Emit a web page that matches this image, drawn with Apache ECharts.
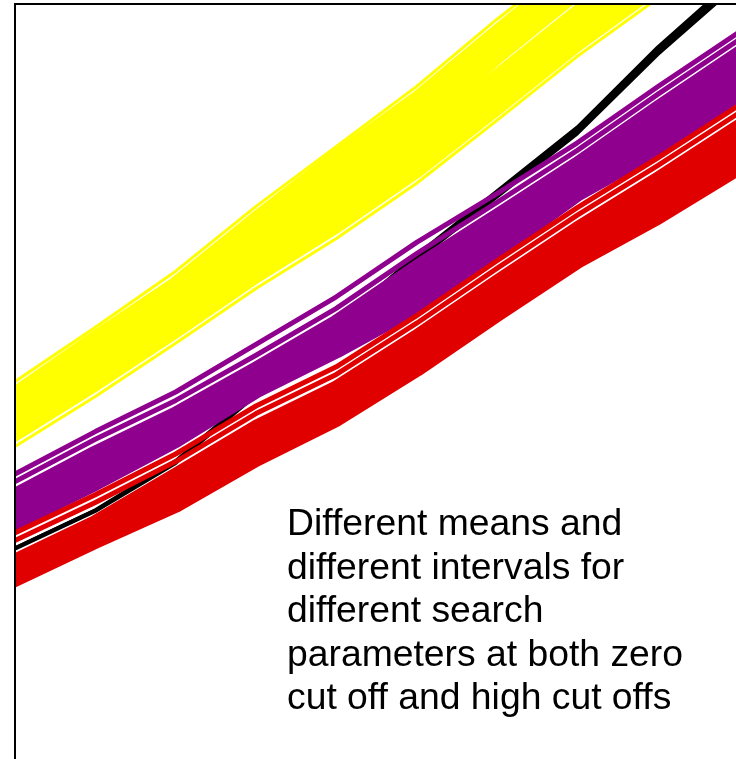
<!DOCTYPE html>
<html>
<head>
<meta charset="utf-8">
<script src="https://cdn.jsdelivr.net/npm/echarts/dist/echarts.min.js"></script>
<style>
  html, body { margin: 0; padding: 0; background: #fff; }
  #chart { width: 736px; height: 759px; }
</style>
</head>
<body>
<div id="chart"></div>
<script>
// Shared x positions for every strand
const xs = [0, 10, 20, 30, 40, 50, 60, 70, 80, 90];

// Black reference curve (three close strands, fanning out slightly)
const blackA = [32.0, 36.75, 42.9, 51.5, 60.0, 68.6, 76.6, 84.6, 94.6, 103.5];
const blackB = [32.0, 36.7, 42.75, 51.3, 59.75, 68.3, 76.25, 84.2, 94.15, 103.0];
const blackC = [31.9, 36.6, 42.6, 51.1, 59.5, 68.0, 75.9, 83.8, 93.7, 102.5];

// Yellow band strands
const yellowThinTop = [52.8, 59.6, 66.6, 74.7, 82.2, 89.7, 98.1, 105.9, 114.1, 122.2];
const yellowTop     = [51.15, 58.15, 64.9, 73.05, 80.8, 88.05, 96.4, 104.5, 112.4, 120.55];
const yellowMid4    = [50.2, 57.05, 63.8, 71.65, 79.1, 86.3, 94.55, 102.6, 110.4, 118.4];
const yellowMid3    = [49.2, 55.9, 62.6, 70.3, 77.4, 84.55, 93.5, 101.6, 108.9, 116.3];
const yellowMid2    = [48.3, 54.8, 61.5, 68.9, 75.7, 82.8, 90.8, 98.85, 106.4, 114.15];
const yellowMid1    = [47.3, 53.7, 60.4, 67.5, 74.05, 81.0, 88.95, 97.0, 104.35, 112.0];
const yellowBottom  = [46.35, 52.6, 59.25, 66.1, 72.35, 79.25, 87.1, 95.1, 102.35, 109.85];
const yellowThinBot = [44.7, 50.95, 57.6, 64.45, 70.7, 77.6, 85.45, 93.45, 100.7, 108.2];

// Purple band strands
const purpleThin1  = [41.25, 46.55, 51.5, 57.45, 63.4, 70.2, 76.3, 82.65, 89.65, 96.4];
const purpleThin2  = [40.3, 45.6, 50.45, 56.1, 61.95, 68.8, 75.2, 81.7, 88.7, 95.45];
const purpleTop    = [38.5, 43.8, 48.65, 54.3, 60.15, 67.0, 73.4, 79.9, 86.9, 93.65];
const purpleMid2   = [37.4, 42.6, 47.5, 53.35, 58.9, 65.3, 71.85, 78.6, 85.25, 91.8];
const purpleMid1   = [36.3, 41.35, 46.4, 52.35, 57.65, 63.6, 70.3, 77.3, 83.55, 90.0];
const purpleBottom = [35.15, 40.15, 45.5, 51.7, 56.7, 62.2, 69.0, 76.3, 81.9, 88.15];

// Red band strands
const redThin1  = [33.9, 38.65, 43.75, 49.75, 54.65, 61.05, 67.9, 74.55, 80.75, 87.25];
const redThin2  = [32.95, 37.7, 42.8, 48.8, 53.7, 60.1, 66.95, 73.6, 79.8, 86.3];
const redTop    = [30.3, 35.1, 41.0, 47.0, 51.9, 58.3, 65.15, 71.8, 78.0, 84.5];
const redMid2   = [29.7, 34.4, 39.8, 45.7, 50.65, 57.0, 63.85, 70.5, 76.45, 82.85];
const redMid1   = [29.0, 33.7, 38.6, 44.45, 49.4, 55.7, 62.55, 69.2, 74.95, 81.2];
const redBottom = [28.15, 32.9, 37.4, 43.15, 48.15, 54.4, 61.25, 67.9, 73.4, 79.55];

// Annotation text
const noteLines = [
  'Different means and',
  'different intervals for',
  'different search',
  'parameters at both zero',
  'cut off and high cut offs'
];

const COLORS = { black: '#000000', yellow: '#FFFF00', purple: '#8F008F', red: '#E00000' };

function strand(values, color, width) {
  return {
    type: 'line',
    data: xs.map((x, i) => [x, values[i]]),
    showSymbol: false,
    symbol: 'none',
    smooth: false,
    silent: true,
    clip: true,
    lineStyle: { color: color, width: width, join: 'round', cap: 'square' }
  };
}

const series = [
  strand(blackA, COLORS.black, 3.5),
  strand(blackB, COLORS.black, 3.5),
  strand(blackC, COLORS.black, 3.5),

  strand(yellowThinTop, COLORS.yellow, 3),
  strand(yellowTop, COLORS.yellow, 16),
  strand(yellowMid4, COLORS.yellow, 16),
  strand(yellowMid3, COLORS.yellow, 16),
  strand(yellowMid2, COLORS.yellow, 16),
  strand(yellowMid1, COLORS.yellow, 16),
  strand(yellowBottom, COLORS.yellow, 16),
  strand(yellowThinBot, COLORS.yellow, 3),

  strand(purpleThin1, COLORS.purple, 5),
  strand(purpleThin2, COLORS.purple, 5),
  strand(purpleTop, COLORS.purple, 16),
  strand(purpleMid2, COLORS.purple, 16),
  strand(purpleMid1, COLORS.purple, 16),
  strand(purpleBottom, COLORS.purple, 16),

  strand(redThin1, COLORS.red, 5),
  strand(redThin2, COLORS.red, 5),
  strand(redTop, COLORS.red, 16),
  strand(redMid2, COLORS.red, 16),
  strand(redMid1, COLORS.red, 16),
  strand(redBottom, COLORS.red, 16)
];

const chart = echarts.init(document.getElementById('chart'), null, { renderer: 'canvas' });
chart.setOption({
  animation: false,
  backgroundColor: '#ffffff',
  // The plot frame runs past the right and bottom edges of the page
  grid: { left: 15, top: 4, width: 723, height: 800, show: false, outerBoundsMode: 'none', containLabel: false },
  xAxis: { type: 'value', min: 0, max: 90, show: false },
  yAxis: { type: 'value', min: 0, max: 100, show: false },
  series: series,
  graphic: [
    // page margin outside the frame stays blank
    { type: 'rect', z: 99, silent: true, shape: { x: 0, y: 0, width: 15, height: 759 }, style: { fill: '#fff' } },
    { type: 'rect', z: 99, silent: true, shape: { x: 0, y: 0, width: 736, height: 4 }, style: { fill: '#fff' } },
    {
      type: 'rect',
      z: 100,
      silent: true,
      shape: { x: 15, y: 4, width: 900, height: 900 },
      style: { fill: 'none', stroke: '#000', lineWidth: 2 }
    },
    {
      type: 'text',
      z: 100,
      left: 287,
      top: 503,
      silent: true,
      style: {
        text: noteLines.join('\n'),
        fontFamily: '"Liberation Sans", Arial, sans-serif',
        fontSize: 37.3,
        lineHeight: 43.5,
        fill: '#000'
      }
    }
  ]
});
</script>
</body>
</html>
